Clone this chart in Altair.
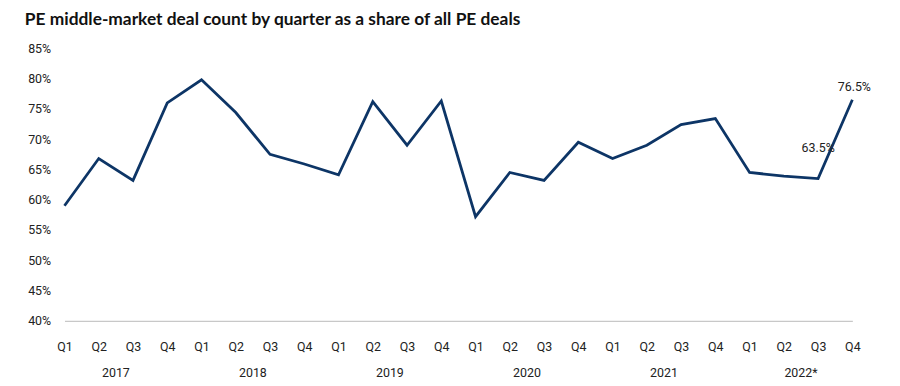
import altair as alt
import pandas as pd

quarters = ["Q1", "Q2", "Q3", "Q4"] * 6
years = ["2017", "2018", "2019", "2020", "2021", "2022*"]
share = [59.0, 66.8, 63.2, 76.0,
         79.8, 74.4, 67.5, 65.9,
         64.1, 76.2, 69.0, 76.3,
         57.2, 64.5, 63.2, 69.5,
         66.8, 69.0, 72.4, 73.4,
         64.5, 63.9, 63.5, 76.5]
labels = {22: "63.5%", 23: "76.5%"}

df = pd.DataFrame({
    "idx": list(range(len(share))),
    "q": quarters,
    "share": share,
})
df["label"] = [labels.get(i, "") for i in df["idx"]]
ydf = pd.DataFrame({"idx": [i * 4 + 1.5 for i in range(len(years))], "year": years})

FONT = "Roboto"
FS = 12.5
W, H = 795, 275
qexpr = "['Q1','Q2','Q3','Q4'][datum.value % 4]"

x = alt.X("idx:Q", scale=alt.Scale(domain=[0, 23], nice=False, zero=False),
          axis=alt.Axis(values=list(range(24)), labelExpr=qexpr, title=None,
                        ticks=False, grid=False, domainColor="#c8c8c8", domainWidth=1.2,
                        labelOverlap=False, labelFlush=False,
                        labelPadding=20, labelFontSize=FS, labelFont=FONT, labelColor="#222"))
y = alt.Y("share:Q", scale=alt.Scale(domain=[40, 85], nice=False, zero=False),
          axis=alt.Axis(values=list(range(40, 90, 5)), labelExpr="datum.value + '%'", title=None,
                        ticks=False, grid=False, domain=False, labelPadding=14,
                        labelOverlap=False, labelFlush=False,
                        labelFontSize=FS, labelFont=FONT, labelColor="#222"))

base = alt.Chart(df)
line = base.mark_line(color="#0d3566", strokeWidth=2.8).encode(x=x, y=y)
lab1 = base.transform_filter("datum.idx == 22").mark_text(
    font=FONT, fontSize=FS, color="#222", dx=0, dy=-31).encode(x=x, y=y, text="label:N")
lab2 = base.transform_filter("datum.idx == 23").mark_text(
    font=FONT, fontSize=FS, color="#222", dx=2, dy=-13).encode(x=x, y=y, text="label:N")
yr = alt.Chart(ydf).mark_text(font=FONT, fontSize=FS, color="#222").encode(
    x=x, y=alt.value(H + 53), text="year:N")

chart = alt.layer(line, lab1, lab2, yr).properties(
    width=W, height=H,
    autosize=alt.AutoSizeParams(type="none"),
    padding={"left": 57, "top": 39, "right": 40, "bottom": 60},
    title=alt.TitleParams("PE middle-market deal count by quarter as a share of all PE deals",
                          anchor="start", frame="group", dx=-40, offset=14,
                          font="Lato", fontSize=17.5, fontWeight="bold", color="#111"),
).configure_view(stroke=None).configure_axis(labelOverlap=False)

chart.save("out.html", embed_options={"renderer": "svg", "actions": False})
